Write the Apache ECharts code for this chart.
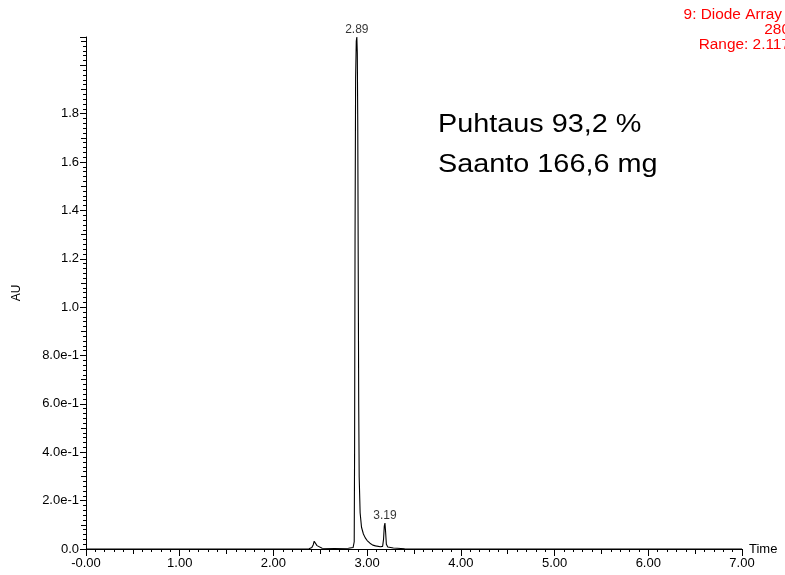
<!DOCTYPE html>
<html>
<head>
<meta charset="utf-8">
<script src="https://cdn.jsdelivr.net/npm/echarts@6/dist/echarts.min.js"></script>
<style>
  html, body { margin: 0; padding: 0; background: #fff; }
  #chart { width: 785px; height: 575px; }
</style>
</head>
<body>
<div id="chart"></div>
<script>
// Retention time (min) of each sampled point of the trace
var times = [0.00, 2.38, 2.41, 2.425, 2.435, 2.445, 2.455, 2.465, 2.48, 2.52,
             2.65, 2.80, 2.85, 2.862, 2.866, 2.871, 2.877, 2.884, 2.89, 2.895,
             2.90, 2.905, 2.91, 2.915, 2.925, 2.94, 2.96, 2.98, 3.00, 3.03,
             3.06, 3.09, 3.10, 3.11, 3.14, 3.165, 3.175, 3.183, 3.19, 3.197,
             3.205, 3.22, 3.25, 3.27, 3.28, 3.29, 3.32, 3.40, 3.60, 7.00];
// Absorbance (AU) at 280 nm for each time above
var absorbance = [0.000, 0.001, 0.006, 0.018, 0.032, 0.037, 0.028, 0.014, 0.006, 0.003,
                  0.002, 0.003, 0.006, 0.030, 0.400, 1.300, 1.950, 2.100, 2.117, 2.050,
                  1.750, 1.150, 0.600, 0.300, 0.150, 0.090, 0.062, 0.046, 0.035, 0.024,
                  0.016, 0.013, 0.020, 0.012, 0.009, 0.011, 0.040, 0.095, 0.107, 0.070,
                  0.020, 0.008, 0.006, 0.009, 0.004, 0.007, 0.003, 0.001, 0.000, 0.000];
// Labelled peak apexes
var peakTimes = [2.89, 3.19];
var peakHeights = [2.117, 0.107];
// Header lines (detector, wavelength, range)
var headerLines = ['9: Diode Array', '280', 'Range: 2.117'];
var noteLines = ['Puhtaus 93,2 %', 'Saanto 166,6 mg'];
var xTickValues = [0, 1, 2, 3, 4, 5, 6, 7];

var FONT = '"Liberation Sans", Arial, sans-serif';

var trace = times.map(function (t, i) { return [t, absorbance[i]]; });
var peaks = peakTimes.map(function (t, i) { return [t, peakHeights[i]]; });

function yLabel(v) {
  if (v > 1.95) return '';
  if (v < 0.001) return '0.0';
  if (v < 0.95) return (v * 10).toFixed(1) + 'e-1';
  return v.toFixed(1);
}
function xLabel(v) {
  if (xTickValues.indexOf(Math.round(v)) < 0) return '';
  return v === 0 ? '-0.00' : v.toFixed(2);
}

var black = '#000';
var grid = { left: 86, right: 43, top: 37, bottom: 26 };

var chart = echarts.init(document.getElementById('chart'), null, { renderer: 'canvas' });
chart.setOption({
  animation: false,
  backgroundColor: '#fff',
  grid: grid,
  xAxis: [{
    type: 'value', min: 0, max: 7, interval: 1,
    axisLine: { show: true, onZero: false, lineStyle: { color: black, width: 1 } },
    axisTick: { show: true, length: 7, lineStyle: { color: black } },
    minorTick: { show: true, splitNumber: 10, length: 3, lineStyle: { color: black } },
    splitLine: { show: false },
    axisLabel: { color: black, fontFamily: FONT, fontSize: 13, margin: 8, formatter: xLabel },
    name: 'Time', nameLocation: 'end', nameGap: 7,
    nameTextStyle: { color: black, fontFamily: FONT, fontSize: 13, verticalAlign: 'middle' }
  }, {
    type: 'value', min: 0, max: 7, interval: 0.5, position: 'bottom',
    axisLine: { show: false },
    axisTick: { show: true, length: 5, lineStyle: { color: black } },
    splitLine: { show: false },
    axisLabel: { show: false }
  }],
  yAxis: [{
    type: 'value', min: 0, max: 2.117, interval: 0.2,
    axisLine: { show: true, onZero: false, lineStyle: { color: black, width: 1 } },
    axisTick: { show: true, length: 6, lineStyle: { color: black } },
    minorTick: { show: true, splitNumber: 10, length: 3, lineStyle: { color: black } },
    splitLine: { show: false },
    axisLabel: { color: black, fontFamily: FONT, fontSize: 13, margin: 7, formatter: yLabel, showMaxLabel: false },
    name: 'AU', nameLocation: 'middle', nameGap: 63, nameRotate: 90,
    nameTextStyle: { color: black, fontFamily: FONT, fontSize: 12 }
  }, {
    type: 'value', min: 0, max: 2.117, interval: 0.1, position: 'left',
    axisLine: { show: false },
    axisTick: { show: true, length: 5, lineStyle: { color: black } },
    splitLine: { show: false },
    axisLabel: { show: false }
  }],
  series: [{
    type: 'line',
    data: trace,
    showSymbol: false,
    symbol: 'none',
    lineStyle: { color: black, width: 1.1 },
    silent: true
  }, {
    type: 'scatter',
    data: peaks,
    symbolSize: 0,
    silent: true,
    label: {
      show: true, position: 'top', distance: 1,
      color: black, fontFamily: FONT, fontSize: 12,
      formatter: function (p) { return p.value[0].toFixed(2); }
    }
  }],
  graphic: [
    { type: 'text', x: 782, y: 8, scaleX: 1.1, style: { x: 0, y: 0, text: headerLines[0], fill: '#ff0000', font: '14px ' + FONT, textAlign: 'right', textVerticalAlign: 'top' } },
    { type: 'text', x: 790, y: 23, scaleX: 1.1, style: { x: 0, y: 0, text: headerLines[1], fill: '#ff0000', font: '14px ' + FONT, textAlign: 'right', textVerticalAlign: 'top' } },
    { type: 'text', x: 790, y: 38, scaleX: 1.1, style: { x: 0, y: 0, text: headerLines[2], fill: '#ff0000', font: '14px ' + FONT, textAlign: 'right', textVerticalAlign: 'top' } },
    { type: 'text', x: 438, y: 112, scaleX: 1.13, style: { x: 0, y: 0, text: noteLines[0], fill: black, font: '25.5px ' + FONT, textVerticalAlign: 'top' } },
    { type: 'text', x: 438, y: 152, scaleX: 1.13, style: { x: 0, y: 0, text: noteLines[1], fill: black, font: '25.5px ' + FONT, textVerticalAlign: 'top' } }
  ]
});
</script>
</body>
</html>
